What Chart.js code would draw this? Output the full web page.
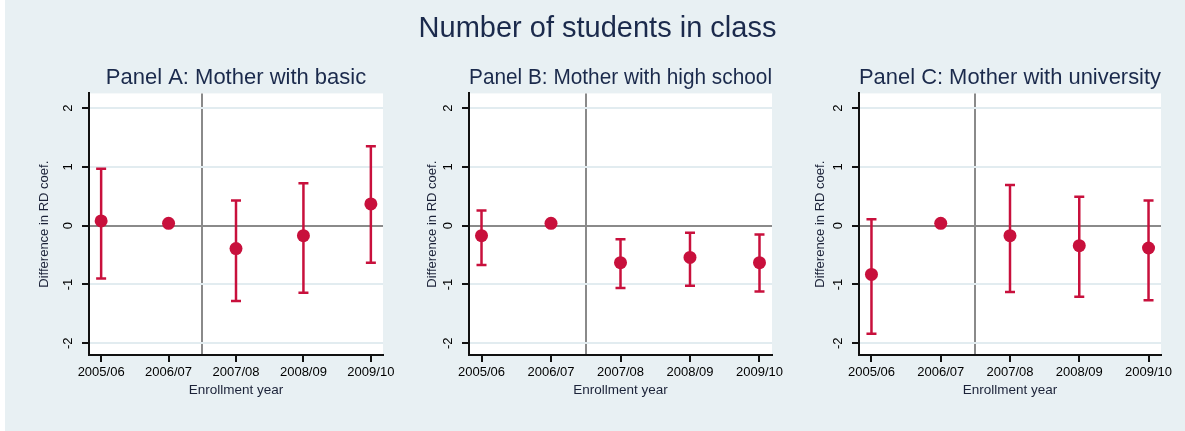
<!DOCTYPE html>
<html>
<head>
<meta charset="utf-8">
<script src="https://cdn.jsdelivr.net/npm/chart.js@4.4.1/dist/chart.umd.min.js"></script>
<style>
body{margin:0;background:#fff;width:1185px;height:431px;overflow:hidden;position:relative;font-family:'Liberation Sans',Arial,Helvetica,sans-serif}
#bg{position:absolute;left:5px;top:0;width:1180px;height:431px;background:#e8f0f3}
#title{position:absolute;left:0;top:13px;width:1195px;text-align:center;font-size:29px;line-height:29px;color:#1b2a4c}
canvas{position:absolute;top:0}
</style>
</head>
<body>
<div id="bg"></div>
<canvas id="panelA"></canvas>
<canvas id="panelB"></canvas>
<canvas id="panelC"></canvas>
<div id="title">Number of students in class</div>
<script>
const years = ['2005/06', '2006/07', '2007/08', '2008/09', '2009/10']
const yTicks = [-2, -1, 0, 1, 2]

// Panel A: mother with basic education
const basicCoef = [0.08, 0.04, -0.39, -0.17, 0.37]
const basicLo = [-0.90, null, -1.28, -1.14, -0.63]
const basicHi = [0.97, null, 0.43, 0.72, 1.35]

// Panel B: mother with high school
const highCoef = [-0.17, 0.04, -0.63, -0.54, -0.63]
const highLo = [-0.67, null, -1.06, -1.02, -1.12]
const highHi = [0.26, null, -0.23, -0.12, -0.15]

// Panel C: mother with university
const uniCoef = [-0.83, 0.04, -0.17, -0.34, -0.38]
const uniLo = [-1.84, null, -1.13, -1.21, -1.27]
const uniHi = [0.11, null, 0.69, 0.49, 0.43]

const FONT = "'Liberation Sans', Arial, Helvetica, sans-serif"
const RED = '#c8103c'
const AXIS = '#111'
const REFLINE = '#8a8a8a'

const plotBg = {
    id: 'plotBg',
    beforeDraw(chart) {
        const {ctx, chartArea: a} = chart
        ctx.save()
        ctx.fillStyle = '#fff'
        ctx.fillRect(a.left, a.top, a.width, a.height)
        ctx.restore()
    }
}

function drawPanel(id, title, coef, lo, hi, box) {
    const canvas = document.getElementById(id)
    const left = box.plotLeft - 70
    const width = box.plotRight + 25 - left
    canvas.width = width
    canvas.height = 431
    canvas.style.left = left + 'px'
    canvas.style.width = width + 'px'
    canvas.style.height = '431px'

    let points = coef.map((v, i) => ({x: i, y: v}))
    let bars = []
    lo.forEach((v, i) => {
        if (v === null) return
        bars.push({x: i, y: v}, {x: i, y: hi[i]}, {x: i, y: null})
    })

    new Chart(canvas, {
        type: 'scatter',
        data: {
            datasets: [{
                data: points,
                pointRadius: 6.5,
                pointHoverRadius: 6.5,
                backgroundColor: RED,
                borderWidth: 0
            }, {
                type: 'line',
                data: bars,
                showLine: true,
                spanGaps: false,
                fill: false,
                borderColor: RED,
                borderWidth: 2.5,
                pointStyle: 'line',
                pointRadius: 5,
                pointHoverRadius: 5,
                pointBorderColor: RED,
                pointBorderWidth: 2.5
            }]
        },
        options: {
            responsive: false,
            animation: false,
            events: [],
            layout: {padding: {left: 14, right: 25, top: 54, bottom: 0}},
            plugins: {
                legend: {display: false},
                tooltip: {enabled: false},
                title: {
                    display: true,
                    text: title,
                    fullSize: false,
                    color: '#1b2a4c',
                    font: {family: FONT, size: 22, weight: 'normal'},
                    padding: {top: 11, bottom: 2}
                }
            },
            scales: {
                x: {
                    type: 'linear',
                    min: -0.18,
                    max: 4.18,
                    afterBuildTicks: axis => { axis.ticks = [0, 1, 1.5, 2, 3, 4].map(v => ({value: v})) },
                    afterFit: axis => { axis.height = 76 },
                    border: {color: AXIS, width: 2},
                    grid: {
                        color: c => c.tick && c.tick.value === 1.5 ? REFLINE : 'rgba(0,0,0,0)',
                        lineWidth: 2,
                        tickLength: 7,
                        tickColor: c => c.tick && c.tick.value === 1.5 ? 'rgba(0,0,0,0)' : AXIS,
                        tickWidth: 2
                    },
                    ticks: {
                        autoSkip: false,
                        maxRotation: 0,
                        padding: 3,
                        color: '#000',
                        font: {family: FONT, size: 13},
                        callback: v => Number.isInteger(v) ? years[v] : ''
                    },
                    title: {
                        display: true,
                        text: 'Enrollment year',
                        color: '#1b2238',
                        font: {family: FONT, size: 13.5},
                        padding: {top: 0, bottom: 33}
                    }
                },
                y: {
                    min: -2.2,
                    max: 2.25,
                    afterBuildTicks: axis => { axis.ticks = yTicks.map(v => ({value: v})) },
                    afterFit: axis => { axis.width = 56 },
                    border: {color: AXIS, width: 2},
                    grid: {
                        color: c => c.tick && c.tick.value === 0 ? REFLINE : '#e2ecf0',
                        lineWidth: 2,
                        tickLength: 7,
                        tickColor: AXIS,
                        tickWidth: 2
                    },
                    ticks: {
                        minRotation: 90,
                        maxRotation: 90,
                        crossAlign: 'center',
                        padding: 8,
                        color: '#000',
                        font: {family: FONT, size: 13},
                        callback: v => String(v)
                    },
                    title: {
                        display: true,
                        text: 'Difference in RD coef.',
                        color: '#1b2238',
                        font: {family: FONT, size: 13},
                        padding: {top: box.yTitlePad, bottom: 0}
                    }
                }
            }
        },
        plugins: [plotBg]
    })
}

drawPanel('panelA', 'Panel A: Mother with basic', basicCoef, basicLo, basicHi, {plotLeft: 89, plotRight: 383, yTitlePad: 4})
drawPanel('panelB', 'Panel B: Mother with high school', highCoef, highLo, highHi, {plotLeft: 469, plotRight: 772, yTitlePad: 12})
drawPanel('panelC', 'Panel C: Mother with university', uniCoef, uniLo, uniHi, {plotLeft: 859, plotRight: 1161, yTitlePad: 10})
</script>
</body>
</html>
